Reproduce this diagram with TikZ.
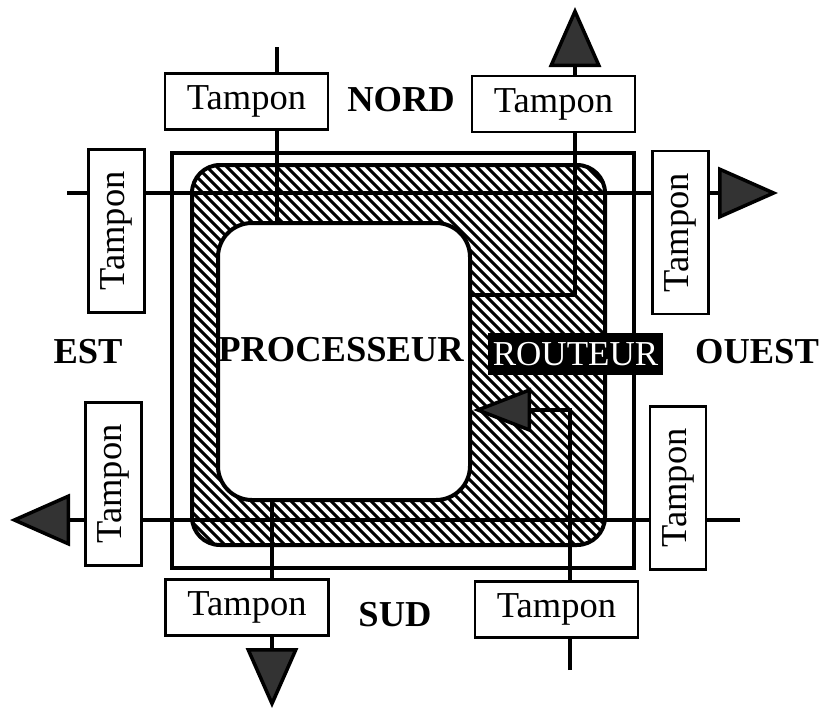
\documentclass[tikz,border=0pt]{standalone}
\usepackage{fontspec}
\setmainfont{Liberation Serif}
\usetikzlibrary{arrows.meta, positioning}

\begin{document}
\begin{tikzpicture}[x=1pt,y=-1pt,
  tampon/.style={draw, line width=2.5pt, fill=white, minimum width=163pt,
    minimum height=56pt, inner sep=0pt, font=\fontsize{36.5}{40}\selectfont},
  vtampon/.style={tampon, rotate=90},
  link/.style={line width=3.5pt},
  bigtip/.style={-{Triangle[length=60pt,width=52pt,fill=black!80]}},
  smalltip/.style={-{Triangle[length=58pt,width=44pt,fill=black!80]}},
  dir/.style={font=\fontsize{36.5}{40}\selectfont\bfseries}]
\useasboundingbox (0,0) rectangle (823,710);
% routeur
\begin{scope}
\clip[rounded corners=28pt] (192,165) rectangle (605,545);
\foreach \k in {-420,-410,...,620}
  \draw[line width=3pt] (\k,150) -- ++(420,420);
\end{scope}
\draw[line width=4pt, rounded corners=28pt] (192,165) rectangle (605,545);
% processeur
\draw[line width=4pt, fill=white, rounded corners=34pt] (218,223) rectangle (470,500);
\draw[line width=4pt] (172,153) rectangle (634,568);
% liens
\coordinate (nIn) at (277,47);
\coordinate (pTop) at (277,223);
\coordinate (pRightA) at (470,295);
\coordinate (nOut) at (575,7);
\coordinate (eIn) at (67,193);
\coordinate (oOut) at (778,193);
\coordinate (oIn) at (740,520);
\coordinate (eOut) at (10,520);
\coordinate (pBot) at (272,500);
\coordinate (sOut) at (272,708);
\coordinate (sIn) at (570,670);
\coordinate (pRightB) at (473,410);
\draw[link] (nIn) -- (pTop);
\draw[link, bigtip] (pRightA) -| (nOut);
\draw[link, bigtip] (eIn) -- (oOut);
\draw[link, bigtip] (oIn) -- (eOut);
\draw[link, bigtip] (pBot) -- (sOut);
\draw[link, smalltip] (sIn) |- (pRightB);
% tampons
\node[tampon] (tN1) at (246.5,101.5) {Tampon};
\node[tampon] (tN2) at (553.5,104) {Tampon};
\node[vtampon] (tE1) at (116.5,231) {Tampon};
\node[vtampon] (tE2) at (113.5,484) {Tampon};
\node[vtampon] (tO1) at (680.5,232.5) {Tampon};
\node[vtampon] (tO2) at (678,488) {Tampon};
\node[tampon] (tS1) at (247,607.5) {Tampon};
\node[tampon] (tS2) at (556.5,609.5) {Tampon};
% textes
\node[dir] (nord) at (401,100) {NORD};
\node[dir] (est) at (88,352) {EST};
\node[dir] (ouest) at (757,352) {OUEST};
\node[dir] (sud) at (395,615) {SUD};
\node[dir, inner sep=0pt] (proc) at (341,350) {PROCESSEUR};
\node[fill=black, text=white, minimum width=175pt, minimum height=42pt,
  inner sep=0pt, font=\fontsize{35}{40}\selectfont] (rout) at (575.5,354) {ROUTEUR};
\end{tikzpicture}
\end{document}
